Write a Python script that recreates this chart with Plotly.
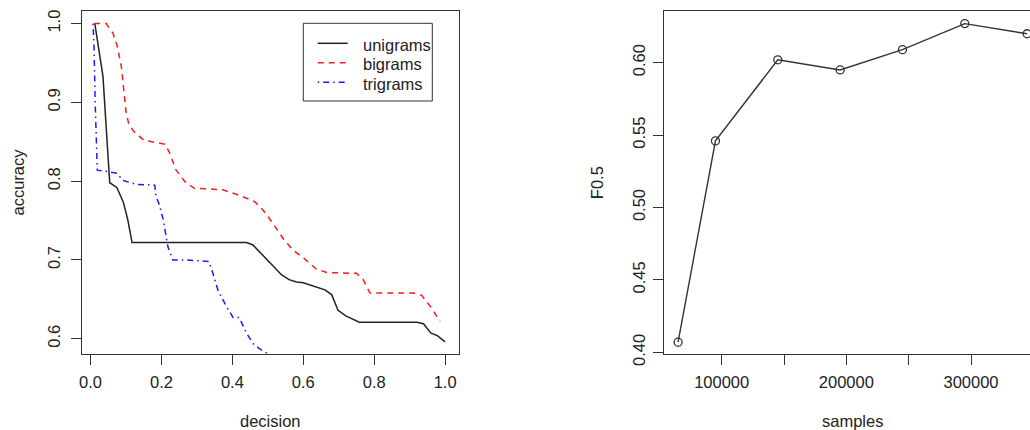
import plotly.graph_objects as go

# ---- data: left panel (accuracy vs decision) ----
uni_x = [0.012, 0.035, 0.054, 0.074, 0.092, 0.105, 0.117, 0.440, 0.458, 0.500, 0.539, 0.560,
         0.581, 0.600, 0.630, 0.661, 0.680, 0.698, 0.720, 0.758, 0.920, 0.939, 0.960, 0.978, 1.000]
uni_y = [1.000, 0.933, 0.798, 0.792, 0.774, 0.751, 0.722, 0.722, 0.719, 0.699, 0.681, 0.675,
         0.672, 0.671, 0.667, 0.662, 0.656, 0.636, 0.629, 0.621, 0.621, 0.619, 0.607, 0.604, 0.596]

bi_x = [0.010, 0.044, 0.063, 0.075, 0.087, 0.094, 0.100, 0.107, 0.120, 0.150, 0.195, 0.209,
        0.222, 0.240, 0.265, 0.292, 0.336, 0.373, 0.420, 0.463, 0.487, 0.515, 0.545, 0.570,
        0.602, 0.635, 0.666, 0.750, 0.769, 0.788, 0.910, 0.934, 0.960, 0.986]
bi_y = [1.000, 1.000, 0.988, 0.972, 0.945, 0.915, 0.888, 0.874, 0.864, 0.852, 0.848, 0.847,
        0.837, 0.815, 0.800, 0.791, 0.790, 0.789, 0.782, 0.774, 0.763, 0.746, 0.726, 0.713,
        0.702, 0.689, 0.684, 0.683, 0.675, 0.658, 0.658, 0.655, 0.640, 0.622]

tri_x = [0.007, 0.010, 0.013, 0.016, 0.019, 0.049, 0.075, 0.091, 0.129, 0.181, 0.185, 0.194,
         0.205, 0.218, 0.232, 0.270, 0.334, 0.345, 0.359, 0.383, 0.402, 0.419, 0.440, 0.458,
         0.477, 0.500, 0.510]
tri_y = [1.000, 0.967, 0.900, 0.850, 0.814, 0.812, 0.810, 0.801, 0.796, 0.795, 0.780, 0.770,
         0.751, 0.717, 0.700, 0.700, 0.698, 0.683, 0.662, 0.641, 0.627, 0.627, 0.607, 0.594,
         0.587, 0.581, 0.578]

# ---- data: right panel (F0.5 vs samples) ----
samples = [65000, 95000, 145000, 195000, 245000, 295000, 345000]
f05 = [0.407, 0.546, 0.602, 0.595, 0.609, 0.627, 0.620]

left_xticks = [0.0, 0.2, 0.4, 0.6, 0.8, 1.0]
left_yticks = [0.6, 0.7, 0.8, 0.9, 1.0]
right_xticks = [100000, 150000, 200000, 250000, 300000, 350000]
right_xlabels = ["100000", "", "200000", "", "300000", ""]
right_yticks = [0.40, 0.45, 0.50, 0.55, 0.60]

series_names = ["unigrams", "bigrams", "trigrams"]
series_colors = ["#222222", "#ff1a1a", "#1a1aff"]
series_dash = ["solid", "6px,5px", "1.5px,4px,6px,4px"]

W, H = 1030, 430
FONT = "Liberation Sans, Arial, Helvetica, sans-serif"
TXT = "#222222"
AX = "#333333"
FS = 16.5

fig = go.Figure()
for name, xs, ys, col, dsh in zip(series_names, [uni_x, bi_x, tri_x], [uni_y, bi_y, tri_y],
                                  series_colors, series_dash):
    fig.add_trace(go.Scatter(x=xs, y=ys, mode="lines", name=name, showlegend=False,
                             line=dict(color=col, width=1.5, dash=dsh), xaxis="x", yaxis="y"))
fig.add_trace(go.Scatter(x=samples, y=f05, mode="lines+markers", showlegend=False,
                         line=dict(color="#333333", width=1.4),
                         marker=dict(symbol="circle-open", size=8, color="#333333", line=dict(width=1.3)),
                         cliponaxis=False, xaxis="x2", yaxis="y2"))

ydom = [1 - 354 / H, 1 - 11 / H]
common = dict(showgrid=False, zeroline=False, ticks="outside", ticklen=10, tickwidth=1,
              tickcolor=AX, linecolor=AX, linewidth=1, showline=True,
              tickfont=dict(family=FONT, size=FS, color=TXT), automargin=False)

# legend drawn in the left panel (box, sample lines, labels) in pixel-based paper coords
def px_x(p):
    return p / W

def px_y(p):
    return 1 - p / H

shapes = [dict(type="rect", xref="paper", yref="paper",
               x0=px_x(303.3), x1=px_x(432.3), y0=px_y(101), y1=px_y(23.3),
               line=dict(color=AX, width=1), fillcolor="white", layer="above")]
annotations = []
row_y = [43.3, 62.7, 82.3]
for name, col, dsh, ry in zip(series_names, series_colors, series_dash, row_y):
    shapes.append(dict(type="line", xref="paper", yref="paper",
                       x0=px_x(317.7), x1=px_x(347.7), y0=px_y(ry), y1=px_y(ry),
                       line=dict(color=col, width=1.5, dash=dsh), layer="above"))
    annotations.append(dict(text=name, x=px_x(360.5), y=px_y(ry + 1.5), xref="paper", yref="paper",
                            showarrow=False, xanchor="left", yanchor="middle",
                            font=dict(size=FS, color=TXT)))

annotations += [
    dict(text="decision", x=270.5 / W, y=1 - 420.5 / H, xref="paper", yref="paper",
         showarrow=False, xanchor="center", yanchor="middle", font=dict(size=FS)),
    dict(text="accuracy", x=17 / W, y=1 - 182.5 / H, xref="paper", yref="paper",
         showarrow=False, xanchor="center", yanchor="middle", textangle=-90, font=dict(size=FS)),
    dict(text="samples", x=852.7 / W, y=1 - 420.5 / H, xref="paper", yref="paper",
         showarrow=False, xanchor="center", yanchor="middle", font=dict(size=FS)),
    dict(text="F0.5", x=596.7 / W, y=1 - 182.5 / H, xref="paper", yref="paper",
         showarrow=False, xanchor="center", yanchor="middle", textangle=-90, font=dict(size=FS)),
]

fig.update_layout(
    width=W, height=H, margin=dict(l=0, r=0, t=0, b=0),
    paper_bgcolor="white", plot_bgcolor="white",
    font=dict(family=FONT, size=FS, color=TXT),
    showlegend=False,
    xaxis=dict(domain=[81.7 / W, 459.3 / W], range=[-0.025, 1.04], anchor="y",
               tickvals=left_xticks, tickformat=".1f", mirror=True, ticklabelstandoff=3, **common),
    yaxis=dict(domain=ydom, range=[0.5806, 1.016], anchor="x",
               tickvals=left_yticks, tickformat=".1f", tickangle=-90, mirror=True,
               ticklabelstandoff=4, **common),
    xaxis2=dict(domain=[664.3 / W, 1.0], range=[53950, 347330], anchor="y2",
                tickvals=right_xticks, ticktext=right_xlabels, mirror=True, ticklabelstandoff=3, **common),
    yaxis2=dict(domain=ydom, range=[0.39883, 0.63570], anchor="x2",
                tickvals=right_yticks, tickformat=".2f", tickangle=-90, mirror=False,
                ticklabelstandoff=2, **common),
    shapes=shapes,
    annotations=annotations,
)

fig.write_html("out.html")
